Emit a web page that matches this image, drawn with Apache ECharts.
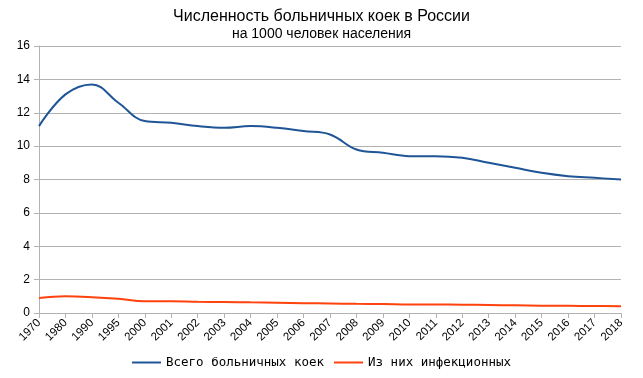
<!DOCTYPE html>
<html><head><meta charset="utf-8">
<script src="https://cdn.jsdelivr.net/npm/echarts@6/dist/echarts.min.js"></script>
<style>html,body{margin:0;padding:0;background:#fff}#c{width:643px;height:378px}</style>
</head><body><div id="c"></div>
<script>
const categories = ['1970','1980','1990','1995','2000','2001','2002','2003','2004','2005','2006','2007','2008','2009','2010','2011','2012','2013','2014','2015','2016','2017','2018'];
const totalBeds = [11.2,13.1,13.7,12.6,11.5,11.4,11.2,11.1,11.2,11.1,10.9,10.7,9.8,9.6,9.4,9.4,9.3,9.0,8.7,8.4,8.2,8.1,8.0];
const infectiousBeds = [0.9,1.0,0.95,0.85,0.7,0.7,0.67,0.66,0.64,0.62,0.59,0.57,0.55,0.54,0.51,0.51,0.5,0.48,0.46,0.44,0.43,0.42,0.4];
const yTicks = {min:0,max:16,interval:2};
const seriesNames = ['Всего больничных коек','Из них инфекционных'];

const chart = echarts.init(document.getElementById('c'));
chart.setOption({
  animation:false,
  title:{
    text:'Численность больничных коек в России',
    subtext:'на 1000 человек населения',
    left:'center', top:4, itemGap:2,
    textStyle:{fontFamily:'Liberation Sans',fontSize:16,fontWeight:'normal',color:'#000'},
    subtextStyle:{fontFamily:'Liberation Sans',fontSize:14,color:'#000'}
  },
  legend:{
    bottom:4, left:'center', itemWidth:29, itemHeight:2, itemGap:10,
    icon:'rect',
    textStyle:{fontFamily:'DejaVu Sans Mono',fontSize:12.5,color:'#000'},
    data:seriesNames
  },
  grid:{left:39,right:22,top:46,bottom:65},
  xAxis:{
    type:'category', data:categories, boundaryGap:false,
    axisLine:{lineStyle:{color:'#b3b3b3'}},
    axisTick:{show:true,length:5,lineStyle:{color:'#b3b3b3'}},
    axisLabel:{rotate:45,fontFamily:'Liberation Sans',fontSize:11.5,color:'#000',margin:8,interval:0}
  },
  yAxis:{
    type:'value', min:yTicks.min, max:yTicks.max, interval:yTicks.interval,
    axisLine:{show:true,lineStyle:{color:'#b3b3b3'}},
    axisTick:{show:true,length:5,lineStyle:{color:'#b3b3b3'}},
    splitLine:{lineStyle:{color:'#b3b3b3'}},
    axisLabel:{fontFamily:'Liberation Sans',fontSize:12,color:'#000',margin:9}
  },
  series:[
    {name:seriesNames[0],type:'line',data:totalBeds,smooth:0.4,showSymbol:false,symbol:'none',
     lineStyle:{color:'#1f5597',width:2},itemStyle:{color:'#1f5597'}},
    {name:seriesNames[1],type:'line',data:infectiousBeds,smooth:0.4,showSymbol:false,symbol:'none',
     lineStyle:{color:'#ff420e',width:2},itemStyle:{color:'#ff420e'}}
  ]
});
</script></body></html>
